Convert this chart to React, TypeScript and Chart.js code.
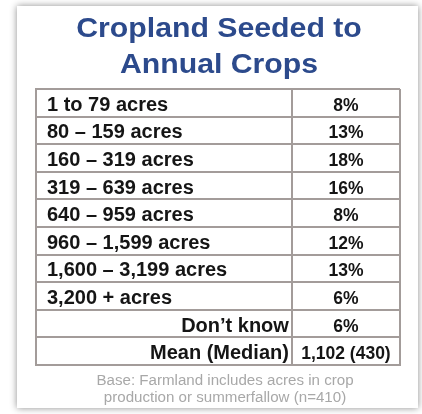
import React, { useEffect, useRef } from "react";
import { Chart, registerables } from "chart.js";

Chart.register(...registerables);

const titleLines = ["Cropland Seeded to", "Annual Crops"];
const rowLabels = [
  "1 to 79 acres",
  "80 – 159 acres",
  "160 – 319 acres",
  "319 – 639 acres",
  "640 – 959 acres",
  "960 – 1,599 acres",
  "1,600 – 3,199 acres",
  "3,200 + acres",
  "Don’t know",
  "Mean (Median)",
];
const rowValues = ["8%", "13%", "18%", "16%", "8%", "12%", "13%", "6%", "6%", "1,102 (430)"];
const rightAlignedRows = ["Don’t know", "Mean (Median)"];
const footnoteLines = ["Base: Farmland includes acres in crop", "production or summerfallow (n=410)"];

const COLUMN_SPLIT = 0.703;
const FONT = "'Liberation Sans', Arial, Helvetica, sans-serif";

function drawText(
  ctx: CanvasRenderingContext2D,
  text: string,
  x: number,
  y: number,
  align: CanvasTextAlign,
  font: string,
  color: string,
  sx = 1
) {
  ctx.save();
  ctx.translate(x, y);
  ctx.scale(sx, 1);
  ctx.font = font;
  ctx.fillStyle = color;
  ctx.textAlign = align;
  ctx.textBaseline = "alphabetic";
  ctx.fillText(text, 0, 0);
  ctx.restore();
}

const cardPlugin = {
  id: "card",
  beforeDraw(chart: any) {
    const ctx = chart.ctx as CanvasRenderingContext2D;
    ctx.save();
    ctx.fillStyle = "#ffffff";
    ctx.fillRect(0, 0, chart.width, chart.height);
    ctx.shadowColor = "rgba(0,0,0,0.45)";
    ctx.shadowBlur = 7;
    ctx.fillStyle = "#ffffff";
    ctx.fillRect(17, 6, 401, 402);
    ctx.restore();
  },
};

const textPlugin = {
  id: "tableText",
  afterDraw(chart: any) {
    const ctx = chart.ctx as CanvasRenderingContext2D;
    const xs = chart.scales.x;
    const ys = chart.scales.y;
    const { left, right, top, bottom } = chart.chartArea;
    const cx = (left + right) / 2;
    const splitPx = xs.getPixelForValue(COLUMN_SPLIT);
    const valueCx = (splitPx + xs.getPixelForValue(1)) / 2;

    drawText(ctx, titleLines[0], cx + 1, top - 52, "center", `bold 27px ${FONT}`, "#2c4a8c", 1.12);
    drawText(ctx, titleLines[1], cx + 1, top - 16, "center", `bold 27px ${FONT}`, "#2c4a8c", 1.12);

    rowLabels.forEach((label, i) => {
      const yc = ys.getPixelForValue(i);
      const base = yc + 8;
      if (rightAlignedRows.includes(label)) {
        drawText(ctx, label, splitPx - 3, base, "right", `bold 20px ${FONT}`, "#151515");
      } else {
        drawText(ctx, label, left + 11, base, "left", `bold 20px ${FONT}`, "#151515");
      }
      drawText(ctx, rowValues[i], valueCx, base, "center", `bold 17.5px ${FONT}`, "#151515");
    });

    drawText(ctx, footnoteLines[0], cx + 7, bottom + 20, "center", `14px ${FONT}`, "#a8a8a8", 1.08);
    drawText(ctx, footnoteLines[1], cx + 7, bottom + 37, "center", `14px ${FONT}`, "#a8a8a8", 1.08);
  },
};

export default function App() {
  const ref = useRef<HTMLCanvasElement | null>(null);

  useEffect(() => {
    if (!ref.current) return;
    const gridColor = "#a39c9a";
    const chart = new Chart(ref.current, {
      type: "bar",
      data: {
        labels: rowLabels,
        datasets: [
          {
            label: "cells",
            data: rowLabels.map(() => null) as any,
            backgroundColor: "rgba(0,0,0,0)",
          },
        ],
      },
      options: {
        indexAxis: "y",
        responsive: false,
        animation: false,
        devicePixelRatio: 1,
        layout: { padding: { left: 36, top: 89, right: 22, bottom: 49 } },
        plugins: {
          legend: { display: false },
          tooltip: { enabled: false },
          title: { display: false },
        },
        scales: {
          x: {
            type: "linear",
            min: 0,
            max: 1,
            afterBuildTicks(scale: any) {
              scale.ticks = [{ value: 0 }, { value: COLUMN_SPLIT }, { value: 1 }];
            },
            ticks: { display: false },
            grid: { color: gridColor, lineWidth: 2, drawTicks: false },
            border: { display: true, color: gridColor, width: 2 },
          },
          y: {
            type: "category",
            offset: true,
            ticks: { display: false },
            grid: { offset: true, color: gridColor, lineWidth: 2, drawTicks: false },
            border: { display: true, color: gridColor, width: 2 },
          },
        },
      },
      plugins: [cardPlugin, textPlugin],
    });
    return () => chart.destroy();
  }, []);

  return (
    <div style={{ position: "fixed", left: 0, top: 0, width: 422, height: 414 }}>
      <canvas ref={ref} width={422} height={414} style={{ display: "block" }} />
    </div>
  );
}
